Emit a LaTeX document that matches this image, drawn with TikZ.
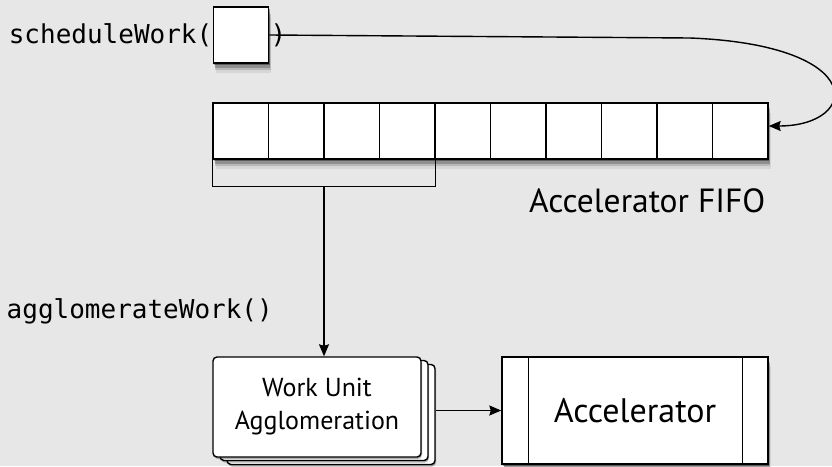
\documentclass[tikz,border=0pt]{standalone}
\usepackage{fontspec}
\setmainfont{PT Sans}
\setmonofont{DejaVu Sans Mono}
\usetikzlibrary{arrows.meta,shadows}
\definecolor{bggray}{RGB}{231,231,231}

\begin{document}
\begin{tikzpicture}[x=1pt, y=-1pt, line width=1.4pt,
		boxshadow/.style={general shadow={fill=black, opacity=.35, shadow xshift=1pt, shadow yshift=-2pt},
			general shadow={fill=black, opacity=.22, shadow xshift=1.5pt, shadow yshift=-4.5pt},
			general shadow={fill=black, opacity=.14, shadow xshift=2pt, shadow yshift=-7pt},
			general shadow={fill=black, opacity=.07, shadow xshift=2.5pt, shadow yshift=-10pt}},
		cell/.style={draw, fill=white, minimum width=55.5pt, minimum height=56pt, inner sep=0pt, boxshadow},
		card/.style={draw, fill=white, rounded corners=4pt, minimum width=208pt, minimum height=100pt,
			general shadow={fill=black, opacity=.3, shadow xshift=1pt, shadow yshift=-2pt}},
		code/.style={font=\ttfamily\fontsize{26}{30}\selectfont, inner sep=0pt},
		flow/.style={-{Stealth[length=12pt, width=10pt, inset=1.5pt]}}]

		\fill[bggray] (0,0) rectangle (832,466);
		\useasboundingbox (0,0) rectangle (832,466);

		% the call that puts one job in the queue
		\node[cell] (job) at (241,35) {};
		\node[code, anchor=base east] (sched) at (213,43) {scheduleWork(};
		\node[code, anchor=base west] (close) at (270,43) {)};

		% accelerator FIFO
		\node[cell] (c0) at (240.75,131) {};
		\node[cell] (c1) at (296.25,131) {};
		\node[cell] (c2) at (351.75,131) {};
		\node[cell] (c3) at (407.25,131) {};
		\node[cell] (c4) at (462.75,131) {};
		\node[cell] (c5) at (518.25,131) {};
		\node[cell] (c6) at (573.75,131) {};
		\node[cell] (c7) at (629.25,131) {};
		\node[cell] (c8) at (684.75,131) {};
		\node[cell] (c9) at (740.25,131) {};
		\node[font=\fontsize{33.5}{40}\selectfont, inner sep=0pt, anchor=base east] (fifo) at (766,212) {Accelerator FIFO};

		\coordinate (bend) at (690,38);
		\draw (job.east) -- (bend);
		\draw[flow] (bend) .. controls (870,45) and (860,126) .. ([yshift=5pt]c9.east);

		% first four entries are grouped
		\draw (c0.south west) -- ++(0,27) coordinate (bl) -| (c3.south east);
		\coordinate (tap) at (324,186);

		\node[code, anchor=base west] (aggl) at (6,318) {agglomerateWork()};

		% stacked work units
		\node[card] (wu3) at (331,414.5) {};
		\node[card] (wu2) at (324,410.5) {};
		\node[card, align=center, font=\fontsize{26}{33}\selectfont] (wu) at (317,407) {Work Unit\\Agglomeration};

		\draw[flow] (tap) -- (tap |- wu.north);

		% accelerator
		\node[draw, fill=white, minimum width=266pt, minimum height=107pt, font=\fontsize{34}{40}\selectfont, boxshadow] (acc) at (635,410.5) {Accelerator};
		\draw ([xshift=27pt]acc.north west) -- ([xshift=27pt]acc.south west);
		\draw ([xshift=-26pt]acc.north east) -- ([xshift=-26pt]acc.south east);

		\draw[flow] (wu3.east |- acc.west) -- (acc.west);
	\end{tikzpicture}
\end{document}
